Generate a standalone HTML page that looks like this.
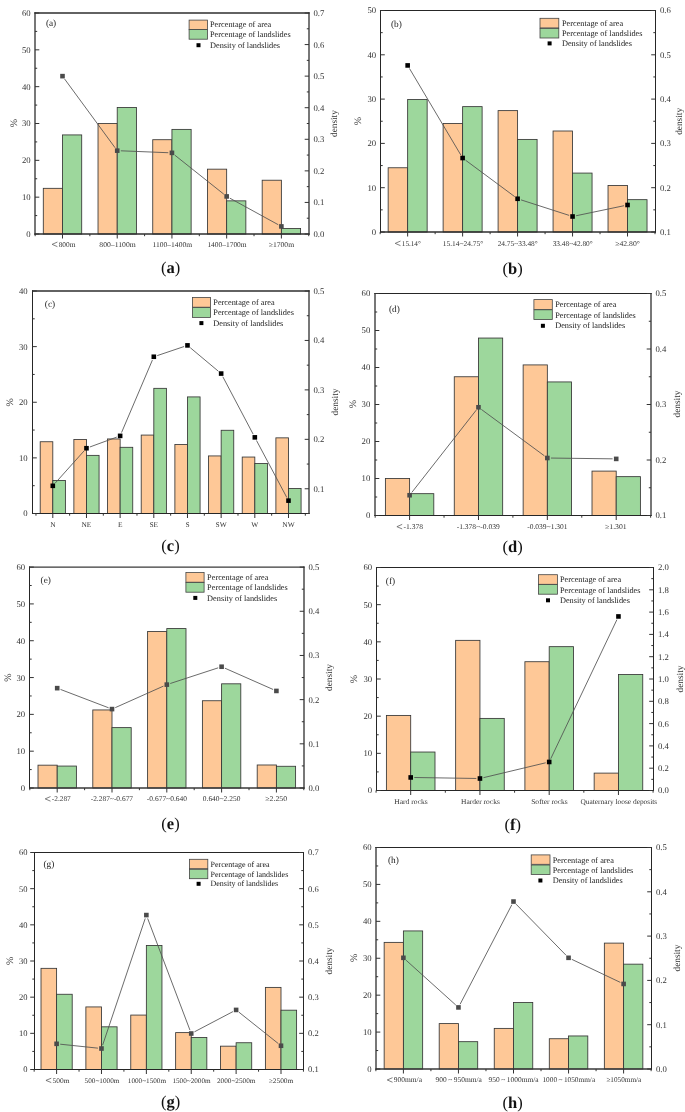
<!DOCTYPE html>
<html><head><meta charset="utf-8"><style>
html,body{margin:0;padding:0;background:#fff;}
svg{display:block;will-change:transform;}
text{font-family:"Liberation Serif", serif;text-rendering:geometricPrecision;}
</style></head><body>
<svg width="685" height="1112" viewBox="0 0 685 1112">
<rect width="685" height="1112" fill="#fff"/>
<rect x="43.30" y="188.33" width="19.20" height="45.67" fill="#FEC897" stroke="#363636" stroke-width="0.85"/>
<rect x="62.50" y="134.92" width="19.20" height="99.08" fill="#9DD79C" stroke="#363636" stroke-width="0.85"/>
<rect x="98.02" y="123.50" width="19.20" height="110.50" fill="#FEC897" stroke="#363636" stroke-width="0.85"/>
<rect x="117.22" y="107.48" width="19.20" height="126.52" fill="#9DD79C" stroke="#363636" stroke-width="0.85"/>
<rect x="152.74" y="139.71" width="19.20" height="94.29" fill="#FEC897" stroke="#363636" stroke-width="0.85"/>
<rect x="171.94" y="129.39" width="19.20" height="104.61" fill="#9DD79C" stroke="#363636" stroke-width="0.85"/>
<rect x="207.46" y="169.17" width="19.20" height="64.83" fill="#FEC897" stroke="#363636" stroke-width="0.85"/>
<rect x="226.66" y="200.85" width="19.20" height="33.15" fill="#9DD79C" stroke="#363636" stroke-width="0.85"/>
<rect x="262.18" y="180.22" width="19.20" height="53.78" fill="#FEC897" stroke="#363636" stroke-width="0.85"/>
<rect x="281.38" y="228.47" width="19.20" height="5.53" fill="#9DD79C" stroke="#363636" stroke-width="0.85"/>
<line x1="64.63" y1="79.04" x2="115.09" y2="147.75" stroke="#505050" stroke-width="0.85"/>
<line x1="120.82" y1="150.80" x2="168.34" y2="152.72" stroke="#505050" stroke-width="0.85"/>
<line x1="174.76" y1="155.10" x2="223.84" y2="194.19" stroke="#505050" stroke-width="0.85"/>
<line x1="229.82" y1="198.16" x2="278.22" y2="224.69" stroke="#505050" stroke-width="0.85"/>
<rect x="60.20" y="73.84" width="4.60" height="4.60" fill="#4a4a4a"/>
<rect x="114.92" y="148.35" width="4.60" height="4.60" fill="#4a4a4a"/>
<rect x="169.64" y="150.56" width="4.60" height="4.60" fill="#4a4a4a"/>
<rect x="224.36" y="194.13" width="4.60" height="4.60" fill="#4a4a4a"/>
<rect x="279.08" y="224.12" width="4.60" height="4.60" fill="#4a4a4a"/>
<line x1="34.35" y1="13.00" x2="309.65" y2="13.00" stroke="#2e2e2e" stroke-width="1.30"/>
<line x1="34.35" y1="234.00" x2="309.65" y2="234.00" stroke="#2e2e2e" stroke-width="1.30"/>
<line x1="35.00" y1="12.35" x2="35.00" y2="234.65" stroke="#2e2e2e" stroke-width="1.30"/>
<line x1="309.00" y1="12.35" x2="309.00" y2="234.65" stroke="#2e2e2e" stroke-width="1.30"/>
<line x1="35.00" y1="234.00" x2="39.30" y2="234.00" stroke="#333" stroke-width="1"/>
<text x="30.70" y="236.96" font-size="8.70" text-anchor="end" fill="#333">0</text>
<line x1="35.00" y1="215.58" x2="37.20" y2="215.58" stroke="#333" stroke-width="1"/>
<line x1="35.00" y1="197.17" x2="39.30" y2="197.17" stroke="#333" stroke-width="1"/>
<text x="30.70" y="200.12" font-size="8.70" text-anchor="end" fill="#333">10</text>
<line x1="35.00" y1="178.75" x2="37.20" y2="178.75" stroke="#333" stroke-width="1"/>
<line x1="35.00" y1="160.33" x2="39.30" y2="160.33" stroke="#333" stroke-width="1"/>
<text x="30.70" y="163.29" font-size="8.70" text-anchor="end" fill="#333">20</text>
<line x1="35.00" y1="141.92" x2="37.20" y2="141.92" stroke="#333" stroke-width="1"/>
<line x1="35.00" y1="123.50" x2="39.30" y2="123.50" stroke="#333" stroke-width="1"/>
<text x="30.70" y="126.46" font-size="8.70" text-anchor="end" fill="#333">30</text>
<line x1="35.00" y1="105.08" x2="37.20" y2="105.08" stroke="#333" stroke-width="1"/>
<line x1="35.00" y1="86.67" x2="39.30" y2="86.67" stroke="#333" stroke-width="1"/>
<text x="30.70" y="89.62" font-size="8.70" text-anchor="end" fill="#333">40</text>
<line x1="35.00" y1="68.25" x2="37.20" y2="68.25" stroke="#333" stroke-width="1"/>
<line x1="35.00" y1="49.83" x2="39.30" y2="49.83" stroke="#333" stroke-width="1"/>
<text x="30.70" y="52.79" font-size="8.70" text-anchor="end" fill="#333">50</text>
<line x1="35.00" y1="31.42" x2="37.20" y2="31.42" stroke="#333" stroke-width="1"/>
<line x1="35.00" y1="13.00" x2="39.30" y2="13.00" stroke="#333" stroke-width="1"/>
<text x="30.70" y="15.96" font-size="8.70" text-anchor="end" fill="#333">60</text>
<line x1="309.00" y1="234.00" x2="304.70" y2="234.00" stroke="#333" stroke-width="1"/>
<text x="313.50" y="236.96" font-size="8.70" fill="#333">0.0</text>
<line x1="309.00" y1="218.21" x2="306.80" y2="218.21" stroke="#333" stroke-width="1"/>
<line x1="309.00" y1="202.43" x2="304.70" y2="202.43" stroke="#333" stroke-width="1"/>
<text x="313.50" y="205.39" font-size="8.70" fill="#333">0.1</text>
<line x1="309.00" y1="186.64" x2="306.80" y2="186.64" stroke="#333" stroke-width="1"/>
<line x1="309.00" y1="170.86" x2="304.70" y2="170.86" stroke="#333" stroke-width="1"/>
<text x="313.50" y="173.82" font-size="8.70" fill="#333">0.2</text>
<line x1="309.00" y1="155.07" x2="306.80" y2="155.07" stroke="#333" stroke-width="1"/>
<line x1="309.00" y1="139.29" x2="304.70" y2="139.29" stroke="#333" stroke-width="1"/>
<text x="313.50" y="142.24" font-size="8.70" fill="#333">0.3</text>
<line x1="309.00" y1="123.50" x2="306.80" y2="123.50" stroke="#333" stroke-width="1"/>
<line x1="309.00" y1="107.71" x2="304.70" y2="107.71" stroke="#333" stroke-width="1"/>
<text x="313.50" y="110.67" font-size="8.70" fill="#333">0.4</text>
<line x1="309.00" y1="91.93" x2="306.80" y2="91.93" stroke="#333" stroke-width="1"/>
<line x1="309.00" y1="76.14" x2="304.70" y2="76.14" stroke="#333" stroke-width="1"/>
<text x="313.50" y="79.10" font-size="8.70" fill="#333">0.5</text>
<line x1="309.00" y1="60.36" x2="306.80" y2="60.36" stroke="#333" stroke-width="1"/>
<line x1="309.00" y1="44.57" x2="304.70" y2="44.57" stroke="#333" stroke-width="1"/>
<text x="313.50" y="47.53" font-size="8.70" fill="#333">0.6</text>
<line x1="309.00" y1="28.79" x2="306.80" y2="28.79" stroke="#333" stroke-width="1"/>
<line x1="309.00" y1="13.00" x2="304.70" y2="13.00" stroke="#333" stroke-width="1"/>
<text x="313.50" y="15.96" font-size="8.70" fill="#333">0.7</text>
<line x1="62.50" y1="234.00" x2="62.50" y2="238.50" stroke="#333" stroke-width="1"/>
<line x1="89.86" y1="234.00" x2="89.86" y2="236.20" stroke="#333" stroke-width="1"/>
<line x1="35.14" y1="234.00" x2="35.14" y2="236.20" stroke="#333" stroke-width="1"/>
<path d="M57.40 242.06 L52.10 244.36 L57.40 246.65" fill="none" stroke="#555" stroke-width="0.75"/>
<text x="58.70" y="246.65" font-size="7.40" textLength="16.80" lengthAdjust="spacingAndGlyphs" fill="#333">800m</text>
<line x1="117.22" y1="234.00" x2="117.22" y2="238.50" stroke="#333" stroke-width="1"/>
<line x1="144.58" y1="234.00" x2="144.58" y2="236.20" stroke="#333" stroke-width="1"/>
<text x="117.50" y="246.65" font-size="7.40" text-anchor="middle" textLength="36.40" lengthAdjust="spacingAndGlyphs" fill="#333">800–1100m</text>
<line x1="171.94" y1="234.00" x2="171.94" y2="238.50" stroke="#333" stroke-width="1"/>
<line x1="199.30" y1="234.00" x2="199.30" y2="236.20" stroke="#333" stroke-width="1"/>
<text x="172.30" y="246.65" font-size="7.40" text-anchor="middle" textLength="39.40" lengthAdjust="spacingAndGlyphs" fill="#333">1100–1400m</text>
<line x1="226.66" y1="234.00" x2="226.66" y2="238.50" stroke="#333" stroke-width="1"/>
<line x1="254.02" y1="234.00" x2="254.02" y2="236.20" stroke="#333" stroke-width="1"/>
<text x="227.00" y="246.65" font-size="7.40" text-anchor="middle" textLength="39.20" lengthAdjust="spacingAndGlyphs" fill="#333">1400–1700m</text>
<line x1="281.38" y1="234.00" x2="281.38" y2="238.50" stroke="#333" stroke-width="1"/>
<line x1="308.74" y1="234.00" x2="308.74" y2="236.20" stroke="#333" stroke-width="1"/>
<text x="281.40" y="246.65" font-size="7.40" text-anchor="middle" textLength="25.30" lengthAdjust="spacingAndGlyphs" fill="#333">≥1700m</text>
<rect x="189.10" y="20.10" width="18.40" height="9.60" fill="#FEC897" stroke="#444" stroke-width="0.8"/>
<rect x="189.10" y="29.60" width="18.40" height="9.60" fill="#9DD79C" stroke="#444" stroke-width="0.8"/>
<rect x="196.50" y="43.20" width="4" height="4" fill="#000"/>
<text x="210.00" y="27.34" font-size="8.30" fill="#222">Percentage of area</text>
<text x="210.00" y="37.44" font-size="8.30" fill="#222">Percentage of landslides</text>
<text x="210.00" y="47.84" font-size="8.30" fill="#222">Density of landslides</text>
<text x="45.90" y="26.20" font-size="9.3" fill="#222">(a)</text>
<text transform="translate(16.90,123.00) rotate(-90)" font-size="10" text-anchor="middle" fill="#333">%</text>
<text transform="translate(336.70,123.60) rotate(-90)" font-size="9.3" text-anchor="middle" fill="#333">density</text>
<text x="170.50" y="273.00" font-size="16.5" text-anchor="middle" fill="#111">(<tspan font-weight="bold">a</tspan>)</text>
<rect x="388.15" y="167.76" width="19.50" height="64.24" fill="#FEC897" stroke="#363636" stroke-width="0.85"/>
<rect x="407.65" y="99.54" width="19.50" height="132.46" fill="#9DD79C" stroke="#363636" stroke-width="0.85"/>
<rect x="443.12" y="123.47" width="19.50" height="108.53" fill="#FEC897" stroke="#363636" stroke-width="0.85"/>
<rect x="462.62" y="106.63" width="19.50" height="125.37" fill="#9DD79C" stroke="#363636" stroke-width="0.85"/>
<rect x="498.09" y="110.62" width="19.50" height="121.38" fill="#FEC897" stroke="#363636" stroke-width="0.85"/>
<rect x="517.59" y="139.41" width="19.50" height="92.59" fill="#9DD79C" stroke="#363636" stroke-width="0.85"/>
<rect x="553.06" y="131.00" width="19.50" height="101.00" fill="#FEC897" stroke="#363636" stroke-width="0.85"/>
<rect x="572.56" y="173.08" width="19.50" height="58.92" fill="#9DD79C" stroke="#363636" stroke-width="0.85"/>
<rect x="608.03" y="185.49" width="19.50" height="46.51" fill="#FEC897" stroke="#363636" stroke-width="0.85"/>
<rect x="627.53" y="199.66" width="19.50" height="32.34" fill="#9DD79C" stroke="#363636" stroke-width="0.85"/>
<line x1="409.49" y1="68.53" x2="460.78" y2="154.92" stroke="#505050" stroke-width="0.85"/>
<line x1="465.51" y1="160.16" x2="514.70" y2="196.63" stroke="#505050" stroke-width="0.85"/>
<line x1="521.02" y1="199.88" x2="569.13" y2="215.39" stroke="#505050" stroke-width="0.85"/>
<line x1="576.08" y1="215.76" x2="624.01" y2="205.72" stroke="#505050" stroke-width="0.85"/>
<rect x="405.35" y="63.13" width="4.60" height="4.60" fill="#000"/>
<rect x="460.32" y="155.72" width="4.60" height="4.60" fill="#000"/>
<rect x="515.29" y="196.47" width="4.60" height="4.60" fill="#000"/>
<rect x="570.26" y="214.19" width="4.60" height="4.60" fill="#000"/>
<rect x="625.23" y="202.68" width="4.60" height="4.60" fill="#000"/>
<line x1="379.98" y1="10.50" x2="656.02" y2="10.50" stroke="#262626" stroke-width="1.05"/>
<line x1="379.98" y1="232.00" x2="656.02" y2="232.00" stroke="#2e2e2e" stroke-width="1.30"/>
<line x1="380.50" y1="9.97" x2="380.50" y2="232.65" stroke="#262626" stroke-width="1.05"/>
<line x1="655.50" y1="9.97" x2="655.50" y2="232.65" stroke="#262626" stroke-width="1.05"/>
<line x1="380.50" y1="232.00" x2="384.80" y2="232.00" stroke="#333" stroke-width="1"/>
<text x="376.20" y="234.96" font-size="8.70" text-anchor="end" fill="#333">0</text>
<line x1="380.50" y1="209.85" x2="382.70" y2="209.85" stroke="#333" stroke-width="1"/>
<line x1="380.50" y1="187.70" x2="384.80" y2="187.70" stroke="#333" stroke-width="1"/>
<text x="376.20" y="190.66" font-size="8.70" text-anchor="end" fill="#333">10</text>
<line x1="380.50" y1="165.55" x2="382.70" y2="165.55" stroke="#333" stroke-width="1"/>
<line x1="380.50" y1="143.40" x2="384.80" y2="143.40" stroke="#333" stroke-width="1"/>
<text x="376.20" y="146.36" font-size="8.70" text-anchor="end" fill="#333">20</text>
<line x1="380.50" y1="121.25" x2="382.70" y2="121.25" stroke="#333" stroke-width="1"/>
<line x1="380.50" y1="99.10" x2="384.80" y2="99.10" stroke="#333" stroke-width="1"/>
<text x="376.20" y="102.06" font-size="8.70" text-anchor="end" fill="#333">30</text>
<line x1="380.50" y1="76.95" x2="382.70" y2="76.95" stroke="#333" stroke-width="1"/>
<line x1="380.50" y1="54.80" x2="384.80" y2="54.80" stroke="#333" stroke-width="1"/>
<text x="376.20" y="57.76" font-size="8.70" text-anchor="end" fill="#333">40</text>
<line x1="380.50" y1="32.65" x2="382.70" y2="32.65" stroke="#333" stroke-width="1"/>
<line x1="380.50" y1="10.50" x2="384.80" y2="10.50" stroke="#333" stroke-width="1"/>
<text x="376.20" y="13.46" font-size="8.70" text-anchor="end" fill="#333">50</text>
<line x1="655.50" y1="232.00" x2="651.20" y2="232.00" stroke="#333" stroke-width="1"/>
<text x="660.00" y="234.96" font-size="8.70" fill="#333">0.1</text>
<line x1="655.50" y1="209.85" x2="653.30" y2="209.85" stroke="#333" stroke-width="1"/>
<line x1="655.50" y1="187.70" x2="651.20" y2="187.70" stroke="#333" stroke-width="1"/>
<text x="660.00" y="190.66" font-size="8.70" fill="#333">0.2</text>
<line x1="655.50" y1="165.55" x2="653.30" y2="165.55" stroke="#333" stroke-width="1"/>
<line x1="655.50" y1="143.40" x2="651.20" y2="143.40" stroke="#333" stroke-width="1"/>
<text x="660.00" y="146.36" font-size="8.70" fill="#333">0.3</text>
<line x1="655.50" y1="121.25" x2="653.30" y2="121.25" stroke="#333" stroke-width="1"/>
<line x1="655.50" y1="99.10" x2="651.20" y2="99.10" stroke="#333" stroke-width="1"/>
<text x="660.00" y="102.06" font-size="8.70" fill="#333">0.4</text>
<line x1="655.50" y1="76.95" x2="653.30" y2="76.95" stroke="#333" stroke-width="1"/>
<line x1="655.50" y1="54.80" x2="651.20" y2="54.80" stroke="#333" stroke-width="1"/>
<text x="660.00" y="57.76" font-size="8.70" fill="#333">0.5</text>
<line x1="655.50" y1="32.65" x2="653.30" y2="32.65" stroke="#333" stroke-width="1"/>
<line x1="655.50" y1="10.50" x2="651.20" y2="10.50" stroke="#333" stroke-width="1"/>
<text x="660.00" y="13.46" font-size="8.70" fill="#333">0.6</text>
<line x1="407.65" y1="232.00" x2="407.65" y2="236.50" stroke="#333" stroke-width="1"/>
<line x1="435.13" y1="232.00" x2="435.13" y2="234.20" stroke="#333" stroke-width="1"/>
<line x1="380.16" y1="232.00" x2="380.16" y2="234.20" stroke="#333" stroke-width="1"/>
<path d="M400.50 241.06 L395.20 243.36 L400.50 245.65" fill="none" stroke="#555" stroke-width="0.75"/>
<text x="401.80" y="245.65" font-size="7.40" textLength="19.00" lengthAdjust="spacingAndGlyphs" fill="#333">15.14°</text>
<line x1="462.62" y1="232.00" x2="462.62" y2="236.50" stroke="#333" stroke-width="1"/>
<line x1="490.11" y1="232.00" x2="490.11" y2="234.20" stroke="#333" stroke-width="1"/>
<text x="463.00" y="245.65" font-size="7.40" text-anchor="middle" textLength="40.30" lengthAdjust="spacingAndGlyphs" fill="#333">15.14~24.75°</text>
<line x1="517.59" y1="232.00" x2="517.59" y2="236.50" stroke="#333" stroke-width="1"/>
<line x1="545.07" y1="232.00" x2="545.07" y2="234.20" stroke="#333" stroke-width="1"/>
<text x="517.70" y="245.65" font-size="7.40" text-anchor="middle" textLength="40.10" lengthAdjust="spacingAndGlyphs" fill="#333">24.75~33.48°</text>
<line x1="572.56" y1="232.00" x2="572.56" y2="236.50" stroke="#333" stroke-width="1"/>
<line x1="600.04" y1="232.00" x2="600.04" y2="234.20" stroke="#333" stroke-width="1"/>
<text x="572.70" y="245.65" font-size="7.40" text-anchor="middle" textLength="40.10" lengthAdjust="spacingAndGlyphs" fill="#333">33.48~42.80°</text>
<line x1="627.53" y1="232.00" x2="627.53" y2="236.50" stroke="#333" stroke-width="1"/>
<line x1="655.01" y1="232.00" x2="655.01" y2="234.20" stroke="#333" stroke-width="1"/>
<text x="627.50" y="245.65" font-size="7.40" text-anchor="middle" textLength="24.70" lengthAdjust="spacingAndGlyphs" fill="#333">≥42.80°</text>
<rect x="540.00" y="18.30" width="18.80" height="9.60" fill="#FEC897" stroke="#444" stroke-width="0.8"/>
<rect x="540.00" y="28.40" width="18.80" height="9.60" fill="#9DD79C" stroke="#444" stroke-width="0.8"/>
<rect x="547.60" y="41.40" width="4" height="4" fill="#000"/>
<text x="561.90" y="25.74" font-size="8.30" fill="#222">Percentage of area</text>
<text x="561.90" y="35.74" font-size="8.30" fill="#222">Percentage of landslides</text>
<text x="561.90" y="46.14" font-size="8.30" fill="#222">Density of landslides</text>
<text x="390.90" y="26.70" font-size="9.3" fill="#222">(b)</text>
<text transform="translate(361.40,121.20) rotate(-90)" font-size="10" text-anchor="middle" fill="#333">%</text>
<text transform="translate(682.30,121.40) rotate(-90)" font-size="9.3" text-anchor="middle" fill="#333">density</text>
<text x="512.70" y="273.50" font-size="16.5" text-anchor="middle" fill="#111">(<tspan font-weight="bold">b</tspan>)</text>
<rect x="40.20" y="441.74" width="12.60" height="71.76" fill="#FEC897" stroke="#363636" stroke-width="0.85"/>
<rect x="52.80" y="480.46" width="12.60" height="33.04" fill="#9DD79C" stroke="#363636" stroke-width="0.85"/>
<rect x="73.87" y="439.52" width="12.60" height="73.98" fill="#FEC897" stroke="#363636" stroke-width="0.85"/>
<rect x="86.47" y="455.37" width="12.60" height="58.13" fill="#9DD79C" stroke="#363636" stroke-width="0.85"/>
<rect x="107.54" y="438.96" width="12.60" height="74.54" fill="#FEC897" stroke="#363636" stroke-width="0.85"/>
<rect x="120.14" y="447.31" width="12.60" height="66.19" fill="#9DD79C" stroke="#363636" stroke-width="0.85"/>
<rect x="141.21" y="435.07" width="12.60" height="78.43" fill="#FEC897" stroke="#363636" stroke-width="0.85"/>
<rect x="153.81" y="388.34" width="12.60" height="125.16" fill="#9DD79C" stroke="#363636" stroke-width="0.85"/>
<rect x="174.88" y="444.52" width="12.60" height="68.98" fill="#FEC897" stroke="#363636" stroke-width="0.85"/>
<rect x="187.48" y="396.91" width="12.60" height="116.59" fill="#9DD79C" stroke="#363636" stroke-width="0.85"/>
<rect x="208.55" y="455.93" width="12.60" height="57.57" fill="#FEC897" stroke="#363636" stroke-width="0.85"/>
<rect x="221.15" y="430.28" width="12.60" height="83.22" fill="#9DD79C" stroke="#363636" stroke-width="0.85"/>
<rect x="242.22" y="457.04" width="12.60" height="56.46" fill="#FEC897" stroke="#363636" stroke-width="0.85"/>
<rect x="254.82" y="463.44" width="12.60" height="50.06" fill="#9DD79C" stroke="#363636" stroke-width="0.85"/>
<rect x="275.89" y="437.85" width="12.60" height="75.65" fill="#FEC897" stroke="#363636" stroke-width="0.85"/>
<rect x="288.49" y="488.47" width="12.60" height="25.03" fill="#9DD79C" stroke="#363636" stroke-width="0.85"/>
<line x1="55.20" y1="483.13" x2="84.07" y2="450.91" stroke="#505050" stroke-width="0.85"/>
<line x1="89.85" y1="446.99" x2="116.76" y2="437.11" stroke="#505050" stroke-width="0.85"/>
<line x1="121.55" y1="432.56" x2="152.40" y2="360.07" stroke="#505050" stroke-width="0.85"/>
<line x1="157.22" y1="355.61" x2="184.07" y2="346.54" stroke="#505050" stroke-width="0.85"/>
<line x1="190.24" y1="347.70" x2="218.39" y2="371.26" stroke="#505050" stroke-width="0.85"/>
<line x1="222.83" y1="376.76" x2="253.14" y2="434.17" stroke="#505050" stroke-width="0.85"/>
<line x1="256.51" y1="440.53" x2="286.80" y2="497.47" stroke="#505050" stroke-width="0.85"/>
<rect x="50.50" y="483.51" width="4.60" height="4.60" fill="#000"/>
<rect x="84.17" y="445.93" width="4.60" height="4.60" fill="#000"/>
<rect x="117.84" y="433.57" width="4.60" height="4.60" fill="#000"/>
<rect x="151.51" y="354.46" width="4.60" height="4.60" fill="#000"/>
<rect x="185.18" y="343.09" width="4.60" height="4.60" fill="#000"/>
<rect x="218.85" y="371.27" width="4.60" height="4.60" fill="#000"/>
<rect x="252.52" y="435.06" width="4.60" height="4.60" fill="#000"/>
<rect x="286.19" y="498.34" width="4.60" height="4.60" fill="#000"/>
<line x1="31.98" y1="291.00" x2="309.65" y2="291.00" stroke="#2e2e2e" stroke-width="1.30"/>
<line x1="31.98" y1="513.50" x2="309.65" y2="513.50" stroke="#262626" stroke-width="1.05"/>
<line x1="32.50" y1="290.35" x2="32.50" y2="514.02" stroke="#262626" stroke-width="1.05"/>
<line x1="309.00" y1="290.35" x2="309.00" y2="514.02" stroke="#2e2e2e" stroke-width="1.30"/>
<line x1="32.50" y1="513.50" x2="36.80" y2="513.50" stroke="#333" stroke-width="1"/>
<text x="27.60" y="516.46" font-size="8.70" text-anchor="end" fill="#333">0</text>
<line x1="32.50" y1="485.69" x2="34.70" y2="485.69" stroke="#333" stroke-width="1"/>
<line x1="32.50" y1="457.88" x2="36.80" y2="457.88" stroke="#333" stroke-width="1"/>
<text x="27.60" y="460.83" font-size="8.70" text-anchor="end" fill="#333">10</text>
<line x1="32.50" y1="430.06" x2="34.70" y2="430.06" stroke="#333" stroke-width="1"/>
<line x1="32.50" y1="402.25" x2="36.80" y2="402.25" stroke="#333" stroke-width="1"/>
<text x="27.60" y="405.21" font-size="8.70" text-anchor="end" fill="#333">20</text>
<line x1="32.50" y1="374.44" x2="34.70" y2="374.44" stroke="#333" stroke-width="1"/>
<line x1="32.50" y1="346.62" x2="36.80" y2="346.62" stroke="#333" stroke-width="1"/>
<text x="27.60" y="349.58" font-size="8.70" text-anchor="end" fill="#333">30</text>
<line x1="32.50" y1="318.81" x2="34.70" y2="318.81" stroke="#333" stroke-width="1"/>
<line x1="32.50" y1="291.00" x2="36.80" y2="291.00" stroke="#333" stroke-width="1"/>
<text x="27.60" y="293.96" font-size="8.70" text-anchor="end" fill="#333">40</text>
<line x1="309.00" y1="513.50" x2="306.80" y2="513.50" stroke="#333" stroke-width="1"/>
<line x1="309.00" y1="488.78" x2="304.70" y2="488.78" stroke="#333" stroke-width="1"/>
<text x="313.50" y="491.74" font-size="8.70" fill="#333">0.1</text>
<line x1="309.00" y1="464.06" x2="306.80" y2="464.06" stroke="#333" stroke-width="1"/>
<line x1="309.00" y1="439.33" x2="304.70" y2="439.33" stroke="#333" stroke-width="1"/>
<text x="313.50" y="442.29" font-size="8.70" fill="#333">0.2</text>
<line x1="309.00" y1="414.61" x2="306.80" y2="414.61" stroke="#333" stroke-width="1"/>
<line x1="309.00" y1="389.89" x2="304.70" y2="389.89" stroke="#333" stroke-width="1"/>
<text x="313.50" y="392.85" font-size="8.70" fill="#333">0.3</text>
<line x1="309.00" y1="365.17" x2="306.80" y2="365.17" stroke="#333" stroke-width="1"/>
<line x1="309.00" y1="340.44" x2="304.70" y2="340.44" stroke="#333" stroke-width="1"/>
<text x="313.50" y="343.40" font-size="8.70" fill="#333">0.4</text>
<line x1="309.00" y1="315.72" x2="306.80" y2="315.72" stroke="#333" stroke-width="1"/>
<line x1="309.00" y1="291.00" x2="304.70" y2="291.00" stroke="#333" stroke-width="1"/>
<text x="313.50" y="293.96" font-size="8.70" fill="#333">0.5</text>
<line x1="52.80" y1="513.50" x2="52.80" y2="518.00" stroke="#333" stroke-width="1"/>
<line x1="69.63" y1="513.50" x2="69.63" y2="515.70" stroke="#333" stroke-width="1"/>
<line x1="35.96" y1="513.50" x2="35.96" y2="515.70" stroke="#333" stroke-width="1"/>
<text x="52.80" y="527.05" font-size="7.40" text-anchor="middle" fill="#333">N</text>
<line x1="86.47" y1="513.50" x2="86.47" y2="518.00" stroke="#333" stroke-width="1"/>
<line x1="103.31" y1="513.50" x2="103.31" y2="515.70" stroke="#333" stroke-width="1"/>
<text x="86.47" y="527.05" font-size="7.40" text-anchor="middle" fill="#333">NE</text>
<line x1="120.14" y1="513.50" x2="120.14" y2="518.00" stroke="#333" stroke-width="1"/>
<line x1="136.97" y1="513.50" x2="136.97" y2="515.70" stroke="#333" stroke-width="1"/>
<text x="120.14" y="527.05" font-size="7.40" text-anchor="middle" fill="#333">E</text>
<line x1="153.81" y1="513.50" x2="153.81" y2="518.00" stroke="#333" stroke-width="1"/>
<line x1="170.65" y1="513.50" x2="170.65" y2="515.70" stroke="#333" stroke-width="1"/>
<text x="153.81" y="527.05" font-size="7.40" text-anchor="middle" fill="#333">SE</text>
<line x1="187.48" y1="513.50" x2="187.48" y2="518.00" stroke="#333" stroke-width="1"/>
<line x1="204.32" y1="513.50" x2="204.32" y2="515.70" stroke="#333" stroke-width="1"/>
<text x="187.48" y="527.05" font-size="7.40" text-anchor="middle" fill="#333">S</text>
<line x1="221.15" y1="513.50" x2="221.15" y2="518.00" stroke="#333" stroke-width="1"/>
<line x1="237.99" y1="513.50" x2="237.99" y2="515.70" stroke="#333" stroke-width="1"/>
<text x="221.15" y="527.05" font-size="7.40" text-anchor="middle" fill="#333">SW</text>
<line x1="254.82" y1="513.50" x2="254.82" y2="518.00" stroke="#333" stroke-width="1"/>
<line x1="271.65" y1="513.50" x2="271.65" y2="515.70" stroke="#333" stroke-width="1"/>
<text x="254.82" y="527.05" font-size="7.40" text-anchor="middle" fill="#333">W</text>
<line x1="288.49" y1="513.50" x2="288.49" y2="518.00" stroke="#333" stroke-width="1"/>
<line x1="305.32" y1="513.50" x2="305.32" y2="515.70" stroke="#333" stroke-width="1"/>
<text x="288.49" y="527.05" font-size="7.40" text-anchor="middle" fill="#333">NW</text>
<rect x="192.40" y="297.40" width="18.10" height="9.80" fill="#FEC897" stroke="#444" stroke-width="0.8"/>
<rect x="192.40" y="307.60" width="18.10" height="9.80" fill="#9DD79C" stroke="#444" stroke-width="0.8"/>
<rect x="199.40" y="321.10" width="4" height="4" fill="#000"/>
<text x="213.30" y="304.84" font-size="8.30" fill="#222">Percentage of area</text>
<text x="213.30" y="315.14" font-size="8.30" fill="#222">Percentage of landslides</text>
<text x="213.30" y="325.84" font-size="8.30" fill="#222">Density of landslides</text>
<text x="44.80" y="306.50" font-size="9.3" fill="#222">(c)</text>
<text transform="translate(13.45,402.30) rotate(-90)" font-size="10" text-anchor="middle" fill="#333">%</text>
<text transform="translate(337.90,402.00) rotate(-90)" font-size="9.3" text-anchor="middle" fill="#333">density</text>
<text x="170.50" y="551.00" font-size="16.5" text-anchor="middle" fill="#111">(<tspan font-weight="bold">c</tspan>)</text>
<rect x="385.40" y="478.50" width="24.20" height="37.00" fill="#FEC897" stroke="#363636" stroke-width="0.85"/>
<rect x="409.60" y="493.67" width="24.20" height="21.83" fill="#9DD79C" stroke="#363636" stroke-width="0.85"/>
<rect x="454.27" y="376.75" width="24.20" height="138.75" fill="#FEC897" stroke="#363636" stroke-width="0.85"/>
<rect x="478.47" y="338.05" width="24.20" height="177.45" fill="#9DD79C" stroke="#363636" stroke-width="0.85"/>
<rect x="523.14" y="364.91" width="24.20" height="150.59" fill="#FEC897" stroke="#363636" stroke-width="0.85"/>
<rect x="547.34" y="381.93" width="24.20" height="133.57" fill="#9DD79C" stroke="#363636" stroke-width="0.85"/>
<rect x="592.01" y="471.10" width="24.20" height="44.40" fill="#FEC897" stroke="#363636" stroke-width="0.85"/>
<rect x="616.21" y="476.65" width="24.20" height="38.85" fill="#9DD79C" stroke="#363636" stroke-width="0.85"/>
<line x1="411.82" y1="492.41" x2="476.25" y2="410.11" stroke="#505050" stroke-width="0.85"/>
<line x1="481.37" y1="409.41" x2="544.44" y2="455.87" stroke="#505050" stroke-width="0.85"/>
<line x1="550.94" y1="458.05" x2="612.61" y2="458.84" stroke="#505050" stroke-width="0.85"/>
<rect x="407.30" y="492.94" width="4.60" height="4.60" fill="#4a4a4a"/>
<rect x="476.17" y="404.98" width="4.60" height="4.60" fill="#4a4a4a"/>
<rect x="545.04" y="455.70" width="4.60" height="4.60" fill="#4a4a4a"/>
<rect x="613.91" y="456.59" width="4.60" height="4.60" fill="#4a4a4a"/>
<line x1="374.35" y1="293.50" x2="651.65" y2="293.50" stroke="#262626" stroke-width="1.05"/>
<line x1="374.35" y1="515.50" x2="651.65" y2="515.50" stroke="#262626" stroke-width="1.05"/>
<line x1="375.00" y1="292.98" x2="375.00" y2="516.02" stroke="#2e2e2e" stroke-width="1.30"/>
<line x1="651.00" y1="292.98" x2="651.00" y2="516.02" stroke="#2e2e2e" stroke-width="1.30"/>
<line x1="375.00" y1="515.50" x2="379.30" y2="515.50" stroke="#333" stroke-width="1"/>
<text x="370.30" y="518.46" font-size="8.70" text-anchor="end" fill="#333">0</text>
<line x1="375.00" y1="497.00" x2="377.20" y2="497.00" stroke="#333" stroke-width="1"/>
<line x1="375.00" y1="478.50" x2="379.30" y2="478.50" stroke="#333" stroke-width="1"/>
<text x="370.30" y="481.46" font-size="8.70" text-anchor="end" fill="#333">10</text>
<line x1="375.00" y1="460.00" x2="377.20" y2="460.00" stroke="#333" stroke-width="1"/>
<line x1="375.00" y1="441.50" x2="379.30" y2="441.50" stroke="#333" stroke-width="1"/>
<text x="370.30" y="444.46" font-size="8.70" text-anchor="end" fill="#333">20</text>
<line x1="375.00" y1="423.00" x2="377.20" y2="423.00" stroke="#333" stroke-width="1"/>
<line x1="375.00" y1="404.50" x2="379.30" y2="404.50" stroke="#333" stroke-width="1"/>
<text x="370.30" y="407.46" font-size="8.70" text-anchor="end" fill="#333">30</text>
<line x1="375.00" y1="386.00" x2="377.20" y2="386.00" stroke="#333" stroke-width="1"/>
<line x1="375.00" y1="367.50" x2="379.30" y2="367.50" stroke="#333" stroke-width="1"/>
<text x="370.30" y="370.46" font-size="8.70" text-anchor="end" fill="#333">40</text>
<line x1="375.00" y1="349.00" x2="377.20" y2="349.00" stroke="#333" stroke-width="1"/>
<line x1="375.00" y1="330.50" x2="379.30" y2="330.50" stroke="#333" stroke-width="1"/>
<text x="370.30" y="333.46" font-size="8.70" text-anchor="end" fill="#333">50</text>
<line x1="375.00" y1="312.00" x2="377.20" y2="312.00" stroke="#333" stroke-width="1"/>
<line x1="375.00" y1="293.50" x2="379.30" y2="293.50" stroke="#333" stroke-width="1"/>
<text x="370.30" y="296.46" font-size="8.70" text-anchor="end" fill="#333">60</text>
<line x1="651.00" y1="515.50" x2="646.70" y2="515.50" stroke="#333" stroke-width="1"/>
<text x="655.50" y="518.46" font-size="8.70" fill="#333">0.1</text>
<line x1="651.00" y1="487.75" x2="648.80" y2="487.75" stroke="#333" stroke-width="1"/>
<line x1="651.00" y1="460.00" x2="646.70" y2="460.00" stroke="#333" stroke-width="1"/>
<text x="655.50" y="462.96" font-size="8.70" fill="#333">0.2</text>
<line x1="651.00" y1="432.25" x2="648.80" y2="432.25" stroke="#333" stroke-width="1"/>
<line x1="651.00" y1="404.50" x2="646.70" y2="404.50" stroke="#333" stroke-width="1"/>
<text x="655.50" y="407.46" font-size="8.70" fill="#333">0.3</text>
<line x1="651.00" y1="376.75" x2="648.80" y2="376.75" stroke="#333" stroke-width="1"/>
<line x1="651.00" y1="349.00" x2="646.70" y2="349.00" stroke="#333" stroke-width="1"/>
<text x="655.50" y="351.96" font-size="8.70" fill="#333">0.4</text>
<line x1="651.00" y1="321.25" x2="648.80" y2="321.25" stroke="#333" stroke-width="1"/>
<line x1="651.00" y1="293.50" x2="646.70" y2="293.50" stroke="#333" stroke-width="1"/>
<text x="655.50" y="296.46" font-size="8.70" fill="#333">0.5</text>
<line x1="409.60" y1="515.50" x2="409.60" y2="520.00" stroke="#333" stroke-width="1"/>
<line x1="444.04" y1="515.50" x2="444.04" y2="517.70" stroke="#333" stroke-width="1"/>
<line x1="375.17" y1="515.50" x2="375.17" y2="517.70" stroke="#333" stroke-width="1"/>
<path d="M402.20 524.36 L396.90 526.66 L402.20 528.95" fill="none" stroke="#555" stroke-width="0.75"/>
<text x="403.50" y="528.95" font-size="7.40" textLength="19.60" lengthAdjust="spacingAndGlyphs" fill="#333">-1.378</text>
<line x1="478.47" y1="515.50" x2="478.47" y2="520.00" stroke="#333" stroke-width="1"/>
<line x1="512.90" y1="515.50" x2="512.90" y2="517.70" stroke="#333" stroke-width="1"/>
<text x="478.20" y="528.95" font-size="7.40" text-anchor="middle" textLength="43.10" lengthAdjust="spacingAndGlyphs" fill="#333">-1.378~-0.039</text>
<line x1="547.34" y1="515.50" x2="547.34" y2="520.00" stroke="#333" stroke-width="1"/>
<line x1="581.78" y1="515.50" x2="581.78" y2="517.70" stroke="#333" stroke-width="1"/>
<text x="547.40" y="528.95" font-size="7.40" text-anchor="middle" textLength="40.30" lengthAdjust="spacingAndGlyphs" fill="#333">-0.039~1.301</text>
<line x1="616.21" y1="515.50" x2="616.21" y2="520.00" stroke="#333" stroke-width="1"/>
<line x1="650.64" y1="515.50" x2="650.64" y2="517.70" stroke="#333" stroke-width="1"/>
<text x="615.90" y="528.95" font-size="7.40" text-anchor="middle" textLength="21.70" lengthAdjust="spacingAndGlyphs" fill="#333">≥1.301</text>
<rect x="533.90" y="299.60" width="18.40" height="9.80" fill="#FEC897" stroke="#444" stroke-width="0.8"/>
<rect x="533.90" y="309.80" width="18.40" height="9.80" fill="#9DD79C" stroke="#444" stroke-width="0.8"/>
<rect x="540.90" y="323.80" width="4" height="4" fill="#000"/>
<text x="555.20" y="307.44" font-size="8.30" fill="#222">Percentage of area</text>
<text x="555.20" y="317.94" font-size="8.30" fill="#222">Percentage of landslides</text>
<text x="555.20" y="328.14" font-size="8.30" fill="#222">Density of landslides</text>
<text x="389.00" y="311.60" font-size="9.3" fill="#222">(d)</text>
<text transform="translate(356.45,404.00) rotate(-90)" font-size="10" text-anchor="middle" fill="#333">%</text>
<text transform="translate(679.50,404.00) rotate(-90)" font-size="9.3" text-anchor="middle" fill="#333">density</text>
<text x="512.70" y="551.50" font-size="16.5" text-anchor="middle" fill="#111">(<tspan font-weight="bold">d</tspan>)</text>
<rect x="38.00" y="765.17" width="19.20" height="22.83" fill="#FEC897" stroke="#363636" stroke-width="0.85"/>
<rect x="57.20" y="766.06" width="19.20" height="21.94" fill="#9DD79C" stroke="#363636" stroke-width="0.85"/>
<rect x="92.80" y="709.95" width="19.20" height="78.05" fill="#FEC897" stroke="#363636" stroke-width="0.85"/>
<rect x="112.00" y="727.62" width="19.20" height="60.38" fill="#9DD79C" stroke="#363636" stroke-width="0.85"/>
<rect x="147.60" y="631.53" width="19.20" height="156.47" fill="#FEC897" stroke="#363636" stroke-width="0.85"/>
<rect x="166.80" y="628.58" width="19.20" height="159.42" fill="#9DD79C" stroke="#363636" stroke-width="0.85"/>
<rect x="202.40" y="700.74" width="19.20" height="87.26" fill="#FEC897" stroke="#363636" stroke-width="0.85"/>
<rect x="221.60" y="683.81" width="19.20" height="104.19" fill="#9DD79C" stroke="#363636" stroke-width="0.85"/>
<rect x="257.20" y="764.99" width="19.20" height="23.01" fill="#FEC897" stroke="#363636" stroke-width="0.85"/>
<rect x="276.40" y="766.28" width="19.20" height="21.72" fill="#9DD79C" stroke="#363636" stroke-width="0.85"/>
<line x1="60.56" y1="689.44" x2="108.64" y2="707.81" stroke="#505050" stroke-width="0.85"/>
<line x1="115.29" y1="707.63" x2="163.51" y2="686.09" stroke="#505050" stroke-width="0.85"/>
<line x1="170.22" y1="683.50" x2="218.18" y2="667.84" stroke="#505050" stroke-width="0.85"/>
<line x1="224.89" y1="668.18" x2="273.11" y2="689.48" stroke="#505050" stroke-width="0.85"/>
<rect x="54.90" y="685.85" width="4.60" height="4.60" fill="#4a4a4a"/>
<rect x="109.70" y="706.79" width="4.60" height="4.60" fill="#4a4a4a"/>
<rect x="164.50" y="682.32" width="4.60" height="4.60" fill="#4a4a4a"/>
<rect x="219.30" y="664.43" width="4.60" height="4.60" fill="#4a4a4a"/>
<rect x="274.10" y="688.64" width="4.60" height="4.60" fill="#4a4a4a"/>
<line x1="28.98" y1="567.10" x2="304.65" y2="567.10" stroke="#383838" stroke-width="1.35"/>
<line x1="28.98" y1="788.00" x2="304.65" y2="788.00" stroke="#383838" stroke-width="1.35"/>
<line x1="29.50" y1="566.43" x2="29.50" y2="788.67" stroke="#262626" stroke-width="1.05"/>
<line x1="304.00" y1="566.43" x2="304.00" y2="788.67" stroke="#2e2e2e" stroke-width="1.30"/>
<line x1="29.50" y1="788.00" x2="33.80" y2="788.00" stroke="#333" stroke-width="1"/>
<text x="25.20" y="790.96" font-size="8.70" text-anchor="end" fill="#333">0</text>
<line x1="29.50" y1="769.59" x2="31.70" y2="769.59" stroke="#333" stroke-width="1"/>
<line x1="29.50" y1="751.18" x2="33.80" y2="751.18" stroke="#333" stroke-width="1"/>
<text x="25.20" y="754.14" font-size="8.70" text-anchor="end" fill="#333">10</text>
<line x1="29.50" y1="732.77" x2="31.70" y2="732.77" stroke="#333" stroke-width="1"/>
<line x1="29.50" y1="714.37" x2="33.80" y2="714.37" stroke="#333" stroke-width="1"/>
<text x="25.20" y="717.32" font-size="8.70" text-anchor="end" fill="#333">20</text>
<line x1="29.50" y1="695.96" x2="31.70" y2="695.96" stroke="#333" stroke-width="1"/>
<line x1="29.50" y1="677.55" x2="33.80" y2="677.55" stroke="#333" stroke-width="1"/>
<text x="25.20" y="680.51" font-size="8.70" text-anchor="end" fill="#333">30</text>
<line x1="29.50" y1="659.14" x2="31.70" y2="659.14" stroke="#333" stroke-width="1"/>
<line x1="29.50" y1="640.73" x2="33.80" y2="640.73" stroke="#333" stroke-width="1"/>
<text x="25.20" y="643.69" font-size="8.70" text-anchor="end" fill="#333">40</text>
<line x1="29.50" y1="622.33" x2="31.70" y2="622.33" stroke="#333" stroke-width="1"/>
<line x1="29.50" y1="603.92" x2="33.80" y2="603.92" stroke="#333" stroke-width="1"/>
<text x="25.20" y="606.87" font-size="8.70" text-anchor="end" fill="#333">50</text>
<line x1="29.50" y1="585.51" x2="31.70" y2="585.51" stroke="#333" stroke-width="1"/>
<line x1="29.50" y1="567.10" x2="33.80" y2="567.10" stroke="#333" stroke-width="1"/>
<text x="25.20" y="570.06" font-size="8.70" text-anchor="end" fill="#333">60</text>
<line x1="304.00" y1="788.00" x2="299.70" y2="788.00" stroke="#333" stroke-width="1"/>
<text x="308.50" y="790.96" font-size="8.70" fill="#333">0.0</text>
<line x1="304.00" y1="765.91" x2="301.80" y2="765.91" stroke="#333" stroke-width="1"/>
<line x1="304.00" y1="743.82" x2="299.70" y2="743.82" stroke="#333" stroke-width="1"/>
<text x="308.50" y="746.78" font-size="8.70" fill="#333">0.1</text>
<line x1="304.00" y1="721.73" x2="301.80" y2="721.73" stroke="#333" stroke-width="1"/>
<line x1="304.00" y1="699.64" x2="299.70" y2="699.64" stroke="#333" stroke-width="1"/>
<text x="308.50" y="702.60" font-size="8.70" fill="#333">0.2</text>
<line x1="304.00" y1="677.55" x2="301.80" y2="677.55" stroke="#333" stroke-width="1"/>
<line x1="304.00" y1="655.46" x2="299.70" y2="655.46" stroke="#333" stroke-width="1"/>
<text x="308.50" y="658.42" font-size="8.70" fill="#333">0.3</text>
<line x1="304.00" y1="633.37" x2="301.80" y2="633.37" stroke="#333" stroke-width="1"/>
<line x1="304.00" y1="611.28" x2="299.70" y2="611.28" stroke="#333" stroke-width="1"/>
<text x="308.50" y="614.24" font-size="8.70" fill="#333">0.4</text>
<line x1="304.00" y1="589.19" x2="301.80" y2="589.19" stroke="#333" stroke-width="1"/>
<line x1="304.00" y1="567.10" x2="299.70" y2="567.10" stroke="#333" stroke-width="1"/>
<text x="308.50" y="570.06" font-size="8.70" fill="#333">0.5</text>
<line x1="57.20" y1="788.00" x2="57.20" y2="792.50" stroke="#333" stroke-width="1"/>
<line x1="84.60" y1="788.00" x2="84.60" y2="790.20" stroke="#333" stroke-width="1"/>
<line x1="29.80" y1="788.00" x2="29.80" y2="790.20" stroke="#333" stroke-width="1"/>
<path d="M50.50 796.56 L45.20 798.86 L50.50 801.15" fill="none" stroke="#555" stroke-width="0.75"/>
<text x="51.80" y="801.15" font-size="7.40" textLength="19.00" lengthAdjust="spacingAndGlyphs" fill="#333">-2.287</text>
<line x1="112.00" y1="788.00" x2="112.00" y2="792.50" stroke="#333" stroke-width="1"/>
<line x1="139.40" y1="788.00" x2="139.40" y2="790.20" stroke="#333" stroke-width="1"/>
<text x="111.90" y="801.15" font-size="7.40" text-anchor="middle" textLength="42.40" lengthAdjust="spacingAndGlyphs" fill="#333">-2.287~-0.677</text>
<line x1="166.80" y1="788.00" x2="166.80" y2="792.50" stroke="#333" stroke-width="1"/>
<line x1="194.20" y1="788.00" x2="194.20" y2="790.20" stroke="#333" stroke-width="1"/>
<text x="166.90" y="801.15" font-size="7.40" text-anchor="middle" textLength="40.10" lengthAdjust="spacingAndGlyphs" fill="#333">-0.677~0.640</text>
<line x1="221.60" y1="788.00" x2="221.60" y2="792.50" stroke="#333" stroke-width="1"/>
<line x1="249.00" y1="788.00" x2="249.00" y2="790.20" stroke="#333" stroke-width="1"/>
<text x="221.60" y="801.15" font-size="7.40" text-anchor="middle" textLength="37.60" lengthAdjust="spacingAndGlyphs" fill="#333">0.640~2.250</text>
<line x1="276.40" y1="788.00" x2="276.40" y2="792.50" stroke="#333" stroke-width="1"/>
<line x1="303.80" y1="788.00" x2="303.80" y2="790.20" stroke="#333" stroke-width="1"/>
<text x="276.20" y="801.15" font-size="7.40" text-anchor="middle" textLength="21.90" lengthAdjust="spacingAndGlyphs" fill="#333">≥2.250</text>
<rect x="185.90" y="572.60" width="18.20" height="9.60" fill="#FEC897" stroke="#444" stroke-width="0.8"/>
<rect x="185.90" y="582.60" width="18.20" height="9.60" fill="#9DD79C" stroke="#444" stroke-width="0.8"/>
<rect x="193.30" y="595.90" width="4" height="4" fill="#000"/>
<text x="207.10" y="579.94" font-size="8.30" fill="#222">Percentage of area</text>
<text x="207.10" y="589.74" font-size="8.30" fill="#222">Percentage of landslides</text>
<text x="207.10" y="600.64" font-size="8.30" fill="#222">Density of landslides</text>
<text x="40.60" y="583.30" font-size="9.3" fill="#222">(e)</text>
<text transform="translate(10.70,677.50) rotate(-90)" font-size="10" text-anchor="middle" fill="#333">%</text>
<text transform="translate(332.10,677.50) rotate(-90)" font-size="9.3" text-anchor="middle" fill="#333">density</text>
<text x="170.50" y="829.00" font-size="16.5" text-anchor="middle" fill="#111">(<tspan font-weight="bold">e</tspan>)</text>
<rect x="386.40" y="715.42" width="24.30" height="75.08" fill="#FEC897" stroke="#363636" stroke-width="0.85"/>
<rect x="410.70" y="752.03" width="24.30" height="38.47" fill="#9DD79C" stroke="#363636" stroke-width="0.85"/>
<rect x="455.65" y="640.35" width="24.30" height="150.15" fill="#FEC897" stroke="#363636" stroke-width="0.85"/>
<rect x="479.95" y="718.40" width="24.30" height="72.10" fill="#9DD79C" stroke="#363636" stroke-width="0.85"/>
<rect x="524.90" y="661.72" width="24.30" height="128.78" fill="#FEC897" stroke="#363636" stroke-width="0.85"/>
<rect x="549.20" y="646.66" width="24.30" height="143.84" fill="#9DD79C" stroke="#363636" stroke-width="0.85"/>
<rect x="594.15" y="773.11" width="24.30" height="17.39" fill="#FEC897" stroke="#363636" stroke-width="0.85"/>
<rect x="618.45" y="674.54" width="24.30" height="115.96" fill="#9DD79C" stroke="#363636" stroke-width="0.85"/>
<line x1="414.30" y1="777.51" x2="476.35" y2="778.46" stroke="#505050" stroke-width="0.85"/>
<line x1="483.45" y1="777.68" x2="545.70" y2="762.79" stroke="#505050" stroke-width="0.85"/>
<line x1="550.75" y1="758.71" x2="616.90" y2="619.70" stroke="#505050" stroke-width="0.85"/>
<rect x="408.40" y="775.15" width="4.60" height="4.60" fill="#000"/>
<rect x="477.65" y="776.21" width="4.60" height="4.60" fill="#000"/>
<rect x="546.90" y="759.66" width="4.60" height="4.60" fill="#000"/>
<rect x="616.15" y="614.15" width="4.60" height="4.60" fill="#000"/>
<line x1="375.98" y1="567.50" x2="654.02" y2="567.50" stroke="#262626" stroke-width="1.05"/>
<line x1="375.98" y1="790.50" x2="654.02" y2="790.50" stroke="#262626" stroke-width="1.05"/>
<line x1="376.50" y1="566.98" x2="376.50" y2="791.02" stroke="#262626" stroke-width="1.05"/>
<line x1="653.50" y1="566.98" x2="653.50" y2="791.02" stroke="#262626" stroke-width="1.05"/>
<line x1="376.50" y1="790.50" x2="380.80" y2="790.50" stroke="#333" stroke-width="1"/>
<text x="372.20" y="793.46" font-size="8.70" text-anchor="end" fill="#333">0</text>
<line x1="376.50" y1="771.92" x2="378.70" y2="771.92" stroke="#333" stroke-width="1"/>
<line x1="376.50" y1="753.33" x2="380.80" y2="753.33" stroke="#333" stroke-width="1"/>
<text x="372.20" y="756.29" font-size="8.70" text-anchor="end" fill="#333">10</text>
<line x1="376.50" y1="734.75" x2="378.70" y2="734.75" stroke="#333" stroke-width="1"/>
<line x1="376.50" y1="716.17" x2="380.80" y2="716.17" stroke="#333" stroke-width="1"/>
<text x="372.20" y="719.12" font-size="8.70" text-anchor="end" fill="#333">20</text>
<line x1="376.50" y1="697.58" x2="378.70" y2="697.58" stroke="#333" stroke-width="1"/>
<line x1="376.50" y1="679.00" x2="380.80" y2="679.00" stroke="#333" stroke-width="1"/>
<text x="372.20" y="681.96" font-size="8.70" text-anchor="end" fill="#333">30</text>
<line x1="376.50" y1="660.42" x2="378.70" y2="660.42" stroke="#333" stroke-width="1"/>
<line x1="376.50" y1="641.83" x2="380.80" y2="641.83" stroke="#333" stroke-width="1"/>
<text x="372.20" y="644.79" font-size="8.70" text-anchor="end" fill="#333">40</text>
<line x1="376.50" y1="623.25" x2="378.70" y2="623.25" stroke="#333" stroke-width="1"/>
<line x1="376.50" y1="604.67" x2="380.80" y2="604.67" stroke="#333" stroke-width="1"/>
<text x="372.20" y="607.62" font-size="8.70" text-anchor="end" fill="#333">50</text>
<line x1="376.50" y1="586.08" x2="378.70" y2="586.08" stroke="#333" stroke-width="1"/>
<line x1="376.50" y1="567.50" x2="380.80" y2="567.50" stroke="#333" stroke-width="1"/>
<text x="372.20" y="570.46" font-size="8.70" text-anchor="end" fill="#333">60</text>
<line x1="653.50" y1="790.50" x2="649.20" y2="790.50" stroke="#333" stroke-width="1"/>
<text x="658.00" y="793.46" font-size="8.70" fill="#333">0.0</text>
<line x1="653.50" y1="779.35" x2="651.30" y2="779.35" stroke="#333" stroke-width="1"/>
<line x1="653.50" y1="768.20" x2="649.20" y2="768.20" stroke="#333" stroke-width="1"/>
<text x="658.00" y="771.16" font-size="8.70" fill="#333">0.2</text>
<line x1="653.50" y1="757.05" x2="651.30" y2="757.05" stroke="#333" stroke-width="1"/>
<line x1="653.50" y1="745.90" x2="649.20" y2="745.90" stroke="#333" stroke-width="1"/>
<text x="658.00" y="748.86" font-size="8.70" fill="#333">0.4</text>
<line x1="653.50" y1="734.75" x2="651.30" y2="734.75" stroke="#333" stroke-width="1"/>
<line x1="653.50" y1="723.60" x2="649.20" y2="723.60" stroke="#333" stroke-width="1"/>
<text x="658.00" y="726.56" font-size="8.70" fill="#333">0.6</text>
<line x1="653.50" y1="712.45" x2="651.30" y2="712.45" stroke="#333" stroke-width="1"/>
<line x1="653.50" y1="701.30" x2="649.20" y2="701.30" stroke="#333" stroke-width="1"/>
<text x="658.00" y="704.26" font-size="8.70" fill="#333">0.8</text>
<line x1="653.50" y1="690.15" x2="651.30" y2="690.15" stroke="#333" stroke-width="1"/>
<line x1="653.50" y1="679.00" x2="649.20" y2="679.00" stroke="#333" stroke-width="1"/>
<text x="658.00" y="681.96" font-size="8.70" fill="#333">1.0</text>
<line x1="653.50" y1="667.85" x2="651.30" y2="667.85" stroke="#333" stroke-width="1"/>
<line x1="653.50" y1="656.70" x2="649.20" y2="656.70" stroke="#333" stroke-width="1"/>
<text x="658.00" y="659.66" font-size="8.70" fill="#333">1.2</text>
<line x1="653.50" y1="645.55" x2="651.30" y2="645.55" stroke="#333" stroke-width="1"/>
<line x1="653.50" y1="634.40" x2="649.20" y2="634.40" stroke="#333" stroke-width="1"/>
<text x="658.00" y="637.36" font-size="8.70" fill="#333">1.4</text>
<line x1="653.50" y1="623.25" x2="651.30" y2="623.25" stroke="#333" stroke-width="1"/>
<line x1="653.50" y1="612.10" x2="649.20" y2="612.10" stroke="#333" stroke-width="1"/>
<text x="658.00" y="615.06" font-size="8.70" fill="#333">1.6</text>
<line x1="653.50" y1="600.95" x2="651.30" y2="600.95" stroke="#333" stroke-width="1"/>
<line x1="653.50" y1="589.80" x2="649.20" y2="589.80" stroke="#333" stroke-width="1"/>
<text x="658.00" y="592.76" font-size="8.70" fill="#333">1.8</text>
<line x1="653.50" y1="578.65" x2="651.30" y2="578.65" stroke="#333" stroke-width="1"/>
<line x1="653.50" y1="567.50" x2="649.20" y2="567.50" stroke="#333" stroke-width="1"/>
<text x="658.00" y="570.46" font-size="8.70" fill="#333">2.0</text>
<line x1="410.70" y1="790.50" x2="410.70" y2="795.00" stroke="#333" stroke-width="1"/>
<line x1="445.32" y1="790.50" x2="445.32" y2="792.70" stroke="#333" stroke-width="1"/>
<line x1="376.07" y1="790.50" x2="376.07" y2="792.70" stroke="#333" stroke-width="1"/>
<text x="411.00" y="803.85" font-size="7.35" text-anchor="middle" textLength="33.50" lengthAdjust="spacingAndGlyphs" fill="#333">Hard rocks</text>
<line x1="479.95" y1="790.50" x2="479.95" y2="795.00" stroke="#333" stroke-width="1"/>
<line x1="514.58" y1="790.50" x2="514.58" y2="792.70" stroke="#333" stroke-width="1"/>
<text x="480.40" y="803.85" font-size="7.35" text-anchor="middle" textLength="38.80" lengthAdjust="spacingAndGlyphs" fill="#333">Harder rocks</text>
<line x1="549.20" y1="790.50" x2="549.20" y2="795.00" stroke="#333" stroke-width="1"/>
<line x1="583.83" y1="790.50" x2="583.83" y2="792.70" stroke="#333" stroke-width="1"/>
<text x="549.50" y="803.85" font-size="7.35" text-anchor="middle" textLength="36.60" lengthAdjust="spacingAndGlyphs" fill="#333">Softer rocks</text>
<line x1="618.45" y1="790.50" x2="618.45" y2="795.00" stroke="#333" stroke-width="1"/>
<line x1="653.08" y1="790.50" x2="653.08" y2="792.70" stroke="#333" stroke-width="1"/>
<text x="618.80" y="803.85" font-size="7.35" text-anchor="middle" textLength="76.80" lengthAdjust="spacingAndGlyphs" fill="#333">Quaternary loose deposits</text>
<rect x="538.40" y="574.70" width="19.00" height="9.60" fill="#FEC897" stroke="#444" stroke-width="0.8"/>
<rect x="538.40" y="584.60" width="19.00" height="9.60" fill="#9DD79C" stroke="#444" stroke-width="0.8"/>
<rect x="546.00" y="598.30" width="4" height="4" fill="#000"/>
<text x="559.90" y="582.14" font-size="8.30" fill="#222">Percentage of area</text>
<text x="559.90" y="592.54" font-size="8.30" fill="#222">Percentage of landslides</text>
<text x="559.90" y="603.04" font-size="8.30" fill="#222">Density of landslides</text>
<text x="385.80" y="583.80" font-size="9.3" fill="#222">(f)</text>
<text transform="translate(357.40,679.00) rotate(-90)" font-size="10" text-anchor="middle" fill="#333">%</text>
<text transform="translate(682.70,679.00) rotate(-90)" font-size="9.3" text-anchor="middle" fill="#333">density</text>
<text x="512.70" y="829.50" font-size="16.5" text-anchor="middle" fill="#111">(<tspan font-weight="bold">f</tspan>)</text>
<rect x="41.00" y="968.34" width="15.60" height="101.16" fill="#FEC897" stroke="#363636" stroke-width="0.85"/>
<rect x="56.60" y="994.27" width="15.60" height="75.23" fill="#9DD79C" stroke="#363636" stroke-width="0.85"/>
<rect x="85.88" y="1006.93" width="15.60" height="62.57" fill="#FEC897" stroke="#363636" stroke-width="0.85"/>
<rect x="101.48" y="1026.82" width="15.60" height="42.68" fill="#9DD79C" stroke="#363636" stroke-width="0.85"/>
<rect x="130.76" y="1015.07" width="15.60" height="54.43" fill="#FEC897" stroke="#363636" stroke-width="0.85"/>
<rect x="146.36" y="945.45" width="15.60" height="124.05" fill="#9DD79C" stroke="#363636" stroke-width="0.85"/>
<rect x="175.64" y="1032.61" width="15.60" height="36.89" fill="#FEC897" stroke="#363636" stroke-width="0.85"/>
<rect x="191.24" y="1037.46" width="15.60" height="32.04" fill="#9DD79C" stroke="#363636" stroke-width="0.85"/>
<rect x="220.52" y="1046.17" width="15.60" height="23.33" fill="#FEC897" stroke="#363636" stroke-width="0.85"/>
<rect x="236.12" y="1042.74" width="15.60" height="26.76" fill="#9DD79C" stroke="#363636" stroke-width="0.85"/>
<rect x="265.40" y="987.40" width="15.60" height="82.10" fill="#FEC897" stroke="#363636" stroke-width="0.85"/>
<rect x="281.00" y="1010.19" width="15.60" height="59.31" fill="#9DD79C" stroke="#363636" stroke-width="0.85"/>
<line x1="60.18" y1="1044.20" x2="97.90" y2="1048.15" stroke="#505050" stroke-width="0.85"/>
<line x1="102.63" y1="1045.11" x2="145.21" y2="918.48" stroke="#505050" stroke-width="0.85"/>
<line x1="147.64" y1="918.43" x2="189.96" y2="1030.15" stroke="#505050" stroke-width="0.85"/>
<line x1="194.43" y1="1031.84" x2="232.93" y2="1011.61" stroke="#505050" stroke-width="0.85"/>
<line x1="238.93" y1="1012.18" x2="278.19" y2="1043.49" stroke="#505050" stroke-width="0.85"/>
<rect x="54.30" y="1041.52" width="4.60" height="4.60" fill="#4a4a4a"/>
<rect x="99.18" y="1046.22" width="4.60" height="4.60" fill="#4a4a4a"/>
<rect x="144.06" y="912.77" width="4.60" height="4.60" fill="#4a4a4a"/>
<rect x="188.94" y="1031.21" width="4.60" height="4.60" fill="#4a4a4a"/>
<rect x="233.82" y="1007.63" width="4.60" height="4.60" fill="#4a4a4a"/>
<rect x="278.70" y="1043.44" width="4.60" height="4.60" fill="#4a4a4a"/>
<line x1="33.98" y1="852.50" x2="304.02" y2="852.50" stroke="#262626" stroke-width="1.05"/>
<line x1="33.98" y1="1069.50" x2="304.02" y2="1069.50" stroke="#262626" stroke-width="1.05"/>
<line x1="34.50" y1="851.98" x2="34.50" y2="1070.03" stroke="#262626" stroke-width="1.05"/>
<line x1="303.50" y1="851.98" x2="303.50" y2="1070.03" stroke="#262626" stroke-width="1.05"/>
<line x1="34.50" y1="1069.50" x2="30.20" y2="1069.50" stroke="#333" stroke-width="1"/>
<text x="27.40" y="1072.39" font-size="8.50" text-anchor="end" fill="#333">0</text>
<line x1="34.50" y1="1051.42" x2="32.30" y2="1051.42" stroke="#333" stroke-width="1"/>
<line x1="34.50" y1="1033.33" x2="30.20" y2="1033.33" stroke="#333" stroke-width="1"/>
<text x="27.40" y="1036.22" font-size="8.50" text-anchor="end" fill="#333">10</text>
<line x1="34.50" y1="1015.25" x2="32.30" y2="1015.25" stroke="#333" stroke-width="1"/>
<line x1="34.50" y1="997.17" x2="30.20" y2="997.17" stroke="#333" stroke-width="1"/>
<text x="27.40" y="1000.06" font-size="8.50" text-anchor="end" fill="#333">20</text>
<line x1="34.50" y1="979.08" x2="32.30" y2="979.08" stroke="#333" stroke-width="1"/>
<line x1="34.50" y1="961.00" x2="30.20" y2="961.00" stroke="#333" stroke-width="1"/>
<text x="27.40" y="963.89" font-size="8.50" text-anchor="end" fill="#333">30</text>
<line x1="34.50" y1="942.92" x2="32.30" y2="942.92" stroke="#333" stroke-width="1"/>
<line x1="34.50" y1="924.83" x2="30.20" y2="924.83" stroke="#333" stroke-width="1"/>
<text x="27.40" y="927.72" font-size="8.50" text-anchor="end" fill="#333">40</text>
<line x1="34.50" y1="906.75" x2="32.30" y2="906.75" stroke="#333" stroke-width="1"/>
<line x1="34.50" y1="888.67" x2="30.20" y2="888.67" stroke="#333" stroke-width="1"/>
<text x="27.40" y="891.56" font-size="8.50" text-anchor="end" fill="#333">50</text>
<line x1="34.50" y1="870.58" x2="32.30" y2="870.58" stroke="#333" stroke-width="1"/>
<line x1="34.50" y1="852.50" x2="30.20" y2="852.50" stroke="#333" stroke-width="1"/>
<text x="27.40" y="855.39" font-size="8.50" text-anchor="end" fill="#333">60</text>
<line x1="303.50" y1="1069.50" x2="299.20" y2="1069.50" stroke="#333" stroke-width="1"/>
<text x="308.00" y="1072.39" font-size="8.50" fill="#333">0.1</text>
<line x1="303.50" y1="1051.42" x2="301.30" y2="1051.42" stroke="#333" stroke-width="1"/>
<line x1="303.50" y1="1033.33" x2="299.20" y2="1033.33" stroke="#333" stroke-width="1"/>
<text x="308.00" y="1036.22" font-size="8.50" fill="#333">0.2</text>
<line x1="303.50" y1="1015.25" x2="301.30" y2="1015.25" stroke="#333" stroke-width="1"/>
<line x1="303.50" y1="997.17" x2="299.20" y2="997.17" stroke="#333" stroke-width="1"/>
<text x="308.00" y="1000.06" font-size="8.50" fill="#333">0.3</text>
<line x1="303.50" y1="979.08" x2="301.30" y2="979.08" stroke="#333" stroke-width="1"/>
<line x1="303.50" y1="961.00" x2="299.20" y2="961.00" stroke="#333" stroke-width="1"/>
<text x="308.00" y="963.89" font-size="8.50" fill="#333">0.4</text>
<line x1="303.50" y1="942.92" x2="301.30" y2="942.92" stroke="#333" stroke-width="1"/>
<line x1="303.50" y1="924.83" x2="299.20" y2="924.83" stroke="#333" stroke-width="1"/>
<text x="308.00" y="927.72" font-size="8.50" fill="#333">0.5</text>
<line x1="303.50" y1="906.75" x2="301.30" y2="906.75" stroke="#333" stroke-width="1"/>
<line x1="303.50" y1="888.67" x2="299.20" y2="888.67" stroke="#333" stroke-width="1"/>
<text x="308.00" y="891.56" font-size="8.50" fill="#333">0.6</text>
<line x1="303.50" y1="870.58" x2="301.30" y2="870.58" stroke="#333" stroke-width="1"/>
<line x1="303.50" y1="852.50" x2="299.20" y2="852.50" stroke="#333" stroke-width="1"/>
<text x="308.00" y="855.39" font-size="8.50" fill="#333">0.7</text>
<line x1="56.60" y1="1069.50" x2="56.60" y2="1074.00" stroke="#333" stroke-width="1"/>
<line x1="79.04" y1="1069.50" x2="79.04" y2="1071.70" stroke="#333" stroke-width="1"/>
<line x1="34.16" y1="1069.50" x2="34.16" y2="1071.70" stroke="#333" stroke-width="1"/>
<path d="M51.25 1078.21 L45.95 1080.38 L51.25 1082.55" fill="none" stroke="#555" stroke-width="0.75"/>
<text x="52.55" y="1082.55" font-size="7.00" textLength="16.90" lengthAdjust="spacingAndGlyphs" fill="#333">500m</text>
<line x1="101.48" y1="1069.50" x2="101.48" y2="1074.00" stroke="#333" stroke-width="1"/>
<line x1="123.92" y1="1069.50" x2="123.92" y2="1071.70" stroke="#333" stroke-width="1"/>
<text x="102.00" y="1082.55" font-size="7.00" text-anchor="middle" textLength="34.90" lengthAdjust="spacingAndGlyphs" fill="#333">500~1000m</text>
<line x1="146.36" y1="1069.50" x2="146.36" y2="1074.00" stroke="#333" stroke-width="1"/>
<line x1="168.80" y1="1069.50" x2="168.80" y2="1071.70" stroke="#333" stroke-width="1"/>
<text x="146.90" y="1082.55" font-size="7.00" text-anchor="middle" textLength="38.20" lengthAdjust="spacingAndGlyphs" fill="#333">1000~1500m</text>
<line x1="191.24" y1="1069.50" x2="191.24" y2="1074.00" stroke="#333" stroke-width="1"/>
<line x1="213.68" y1="1069.50" x2="213.68" y2="1071.70" stroke="#333" stroke-width="1"/>
<text x="191.50" y="1082.55" font-size="7.00" text-anchor="middle" textLength="38.20" lengthAdjust="spacingAndGlyphs" fill="#333">1500~2000m</text>
<line x1="236.12" y1="1069.50" x2="236.12" y2="1074.00" stroke="#333" stroke-width="1"/>
<line x1="258.56" y1="1069.50" x2="258.56" y2="1071.70" stroke="#333" stroke-width="1"/>
<text x="236.20" y="1082.55" font-size="7.00" text-anchor="middle" textLength="38.60" lengthAdjust="spacingAndGlyphs" fill="#333">2000~2500m</text>
<line x1="281.00" y1="1069.50" x2="281.00" y2="1074.00" stroke="#333" stroke-width="1"/>
<line x1="303.44" y1="1069.50" x2="303.44" y2="1071.70" stroke="#333" stroke-width="1"/>
<text x="281.00" y="1082.55" font-size="7.00" text-anchor="middle" textLength="24.70" lengthAdjust="spacingAndGlyphs" fill="#333">≥2500m</text>
<rect x="189.40" y="859.30" width="18.40" height="9.40" fill="#FEC897" stroke="#444" stroke-width="0.8"/>
<rect x="189.40" y="869.30" width="18.40" height="9.40" fill="#9DD79C" stroke="#444" stroke-width="0.8"/>
<rect x="196.60" y="881.80" width="4" height="4" fill="#000"/>
<text x="210.50" y="866.64" font-size="8.00" fill="#222">Percentage of area</text>
<text x="210.50" y="876.64" font-size="8.00" fill="#222">Percentage of landslides</text>
<text x="210.50" y="886.44" font-size="8.00" fill="#222">Density of landslides</text>
<text x="43.40" y="867.30" font-size="9.3" fill="#222">(g)</text>
<text transform="translate(13.45,960.80) rotate(-90)" font-size="10" text-anchor="middle" fill="#333">%</text>
<text transform="translate(331.70,961.00) rotate(-90)" font-size="9.3" text-anchor="middle" fill="#333">density</text>
<text x="170.50" y="1107.30" font-size="16.5" text-anchor="middle" fill="#111">(<tspan font-weight="bold">g</tspan>)</text>
<rect x="384.15" y="942.38" width="19.25" height="126.62" fill="#FEC897" stroke="#363636" stroke-width="0.85"/>
<rect x="403.40" y="930.93" width="19.25" height="138.07" fill="#9DD79C" stroke="#363636" stroke-width="0.85"/>
<rect x="439.20" y="1023.59" width="19.25" height="45.41" fill="#FEC897" stroke="#363636" stroke-width="0.85"/>
<rect x="458.45" y="1041.68" width="19.25" height="27.32" fill="#9DD79C" stroke="#363636" stroke-width="0.85"/>
<rect x="494.25" y="1028.39" width="19.25" height="40.61" fill="#FEC897" stroke="#363636" stroke-width="0.85"/>
<rect x="513.50" y="1002.55" width="19.25" height="66.45" fill="#9DD79C" stroke="#363636" stroke-width="0.85"/>
<rect x="549.30" y="1038.73" width="19.25" height="30.27" fill="#FEC897" stroke="#363636" stroke-width="0.85"/>
<rect x="568.55" y="1035.96" width="19.25" height="33.04" fill="#9DD79C" stroke="#363636" stroke-width="0.85"/>
<rect x="604.35" y="943.11" width="19.25" height="125.89" fill="#FEC897" stroke="#363636" stroke-width="0.85"/>
<rect x="623.60" y="964.16" width="19.25" height="104.84" fill="#9DD79C" stroke="#363636" stroke-width="0.85"/>
<line x1="406.07" y1="960.22" x2="455.78" y2="1005.01" stroke="#505050" stroke-width="0.85"/>
<line x1="460.11" y1="1004.23" x2="511.84" y2="904.74" stroke="#505050" stroke-width="0.85"/>
<line x1="516.02" y1="904.12" x2="566.03" y2="955.23" stroke="#505050" stroke-width="0.85"/>
<line x1="571.80" y1="959.35" x2="620.35" y2="982.40" stroke="#505050" stroke-width="0.85"/>
<rect x="401.10" y="955.51" width="4.60" height="4.60" fill="#4a4a4a"/>
<rect x="456.15" y="1005.12" width="4.60" height="4.60" fill="#4a4a4a"/>
<rect x="511.20" y="899.25" width="4.60" height="4.60" fill="#4a4a4a"/>
<rect x="566.25" y="955.51" width="4.60" height="4.60" fill="#4a4a4a"/>
<rect x="621.30" y="981.64" width="4.60" height="4.60" fill="#4a4a4a"/>
<line x1="375.35" y1="847.50" x2="652.02" y2="847.50" stroke="#262626" stroke-width="1.05"/>
<line x1="375.35" y1="1069.00" x2="652.02" y2="1069.00" stroke="#383838" stroke-width="1.35"/>
<line x1="376.00" y1="846.98" x2="376.00" y2="1069.67" stroke="#2e2e2e" stroke-width="1.30"/>
<line x1="651.50" y1="846.98" x2="651.50" y2="1069.67" stroke="#262626" stroke-width="1.05"/>
<line x1="376.00" y1="1069.00" x2="380.30" y2="1069.00" stroke="#333" stroke-width="1"/>
<text x="371.70" y="1071.96" font-size="8.70" text-anchor="end" fill="#333">0</text>
<line x1="376.00" y1="1050.54" x2="378.20" y2="1050.54" stroke="#333" stroke-width="1"/>
<line x1="376.00" y1="1032.08" x2="380.30" y2="1032.08" stroke="#333" stroke-width="1"/>
<text x="371.70" y="1035.04" font-size="8.70" text-anchor="end" fill="#333">10</text>
<line x1="376.00" y1="1013.62" x2="378.20" y2="1013.62" stroke="#333" stroke-width="1"/>
<line x1="376.00" y1="995.17" x2="380.30" y2="995.17" stroke="#333" stroke-width="1"/>
<text x="371.70" y="998.12" font-size="8.70" text-anchor="end" fill="#333">20</text>
<line x1="376.00" y1="976.71" x2="378.20" y2="976.71" stroke="#333" stroke-width="1"/>
<line x1="376.00" y1="958.25" x2="380.30" y2="958.25" stroke="#333" stroke-width="1"/>
<text x="371.70" y="961.21" font-size="8.70" text-anchor="end" fill="#333">30</text>
<line x1="376.00" y1="939.79" x2="378.20" y2="939.79" stroke="#333" stroke-width="1"/>
<line x1="376.00" y1="921.33" x2="380.30" y2="921.33" stroke="#333" stroke-width="1"/>
<text x="371.70" y="924.29" font-size="8.70" text-anchor="end" fill="#333">40</text>
<line x1="376.00" y1="902.88" x2="378.20" y2="902.88" stroke="#333" stroke-width="1"/>
<line x1="376.00" y1="884.42" x2="380.30" y2="884.42" stroke="#333" stroke-width="1"/>
<text x="371.70" y="887.37" font-size="8.70" text-anchor="end" fill="#333">50</text>
<line x1="376.00" y1="865.96" x2="378.20" y2="865.96" stroke="#333" stroke-width="1"/>
<line x1="376.00" y1="847.50" x2="380.30" y2="847.50" stroke="#333" stroke-width="1"/>
<text x="371.70" y="850.46" font-size="8.70" text-anchor="end" fill="#333">60</text>
<line x1="651.50" y1="1069.00" x2="647.20" y2="1069.00" stroke="#333" stroke-width="1"/>
<text x="656.00" y="1071.96" font-size="8.70" fill="#333">0.0</text>
<line x1="651.50" y1="1046.85" x2="649.30" y2="1046.85" stroke="#333" stroke-width="1"/>
<line x1="651.50" y1="1024.70" x2="647.20" y2="1024.70" stroke="#333" stroke-width="1"/>
<text x="656.00" y="1027.66" font-size="8.70" fill="#333">0.1</text>
<line x1="651.50" y1="1002.55" x2="649.30" y2="1002.55" stroke="#333" stroke-width="1"/>
<line x1="651.50" y1="980.40" x2="647.20" y2="980.40" stroke="#333" stroke-width="1"/>
<text x="656.00" y="983.36" font-size="8.70" fill="#333">0.2</text>
<line x1="651.50" y1="958.25" x2="649.30" y2="958.25" stroke="#333" stroke-width="1"/>
<line x1="651.50" y1="936.10" x2="647.20" y2="936.10" stroke="#333" stroke-width="1"/>
<text x="656.00" y="939.06" font-size="8.70" fill="#333">0.3</text>
<line x1="651.50" y1="913.95" x2="649.30" y2="913.95" stroke="#333" stroke-width="1"/>
<line x1="651.50" y1="891.80" x2="647.20" y2="891.80" stroke="#333" stroke-width="1"/>
<text x="656.00" y="894.76" font-size="8.70" fill="#333">0.4</text>
<line x1="651.50" y1="869.65" x2="649.30" y2="869.65" stroke="#333" stroke-width="1"/>
<line x1="651.50" y1="847.50" x2="647.20" y2="847.50" stroke="#333" stroke-width="1"/>
<text x="656.00" y="850.46" font-size="8.70" fill="#333">0.5</text>
<line x1="403.40" y1="1069.00" x2="403.40" y2="1073.50" stroke="#333" stroke-width="1"/>
<line x1="430.92" y1="1069.00" x2="430.92" y2="1071.20" stroke="#333" stroke-width="1"/>
<line x1="375.88" y1="1069.00" x2="375.88" y2="1071.20" stroke="#333" stroke-width="1"/>
<path d="M392.55 1077.66 L387.25 1079.96 L392.55 1082.25" fill="none" stroke="#555" stroke-width="0.75"/>
<text x="393.85" y="1082.25" font-size="7.40" textLength="28.10" lengthAdjust="spacingAndGlyphs" fill="#333">900mm/a</text>
<line x1="458.45" y1="1069.00" x2="458.45" y2="1073.50" stroke="#333" stroke-width="1"/>
<line x1="485.97" y1="1069.00" x2="485.97" y2="1071.20" stroke="#333" stroke-width="1"/>
<text x="458.70" y="1082.25" font-size="7.40" text-anchor="middle" textLength="46.40" lengthAdjust="spacingAndGlyphs" fill="#333">900 ~ 950mm/a</text>
<line x1="513.50" y1="1069.00" x2="513.50" y2="1073.50" stroke="#333" stroke-width="1"/>
<line x1="541.02" y1="1069.00" x2="541.02" y2="1071.20" stroke="#333" stroke-width="1"/>
<text x="513.60" y="1082.25" font-size="7.40" text-anchor="middle" textLength="50.00" lengthAdjust="spacingAndGlyphs" fill="#333">950 ~ 1000mm/a</text>
<line x1="568.55" y1="1069.00" x2="568.55" y2="1073.50" stroke="#333" stroke-width="1"/>
<line x1="596.07" y1="1069.00" x2="596.07" y2="1071.20" stroke="#333" stroke-width="1"/>
<text x="568.80" y="1082.25" font-size="7.40" text-anchor="middle" textLength="52.70" lengthAdjust="spacingAndGlyphs" fill="#333">1000 ~ 1050mm/a</text>
<line x1="623.60" y1="1069.00" x2="623.60" y2="1073.50" stroke="#333" stroke-width="1"/>
<line x1="651.12" y1="1069.00" x2="651.12" y2="1071.20" stroke="#333" stroke-width="1"/>
<text x="623.80" y="1082.25" font-size="7.40" text-anchor="middle" textLength="34.80" lengthAdjust="spacingAndGlyphs" fill="#333">≥1050mm/a</text>
<rect x="531.20" y="854.90" width="18.80" height="9.40" fill="#FEC897" stroke="#444" stroke-width="0.8"/>
<rect x="531.20" y="865.00" width="18.80" height="9.40" fill="#9DD79C" stroke="#444" stroke-width="0.8"/>
<rect x="538.40" y="878.50" width="4" height="4" fill="#000"/>
<text x="552.70" y="862.54" font-size="8.30" fill="#222">Percentage of area</text>
<text x="552.70" y="872.94" font-size="8.30" fill="#222">Percentage of landslides</text>
<text x="552.70" y="883.24" font-size="8.30" fill="#222">Density of landslides</text>
<text x="388.00" y="863.20" font-size="9.3" fill="#222">(h)</text>
<text transform="translate(357.40,957.90) rotate(-90)" font-size="10" text-anchor="middle" fill="#333">%</text>
<text transform="translate(679.90,958.10) rotate(-90)" font-size="9.3" text-anchor="middle" fill="#333">density</text>
<text x="512.70" y="1107.70" font-size="16.5" text-anchor="middle" fill="#111">(<tspan font-weight="bold">h</tspan>)</text>
</svg>
</body></html>
